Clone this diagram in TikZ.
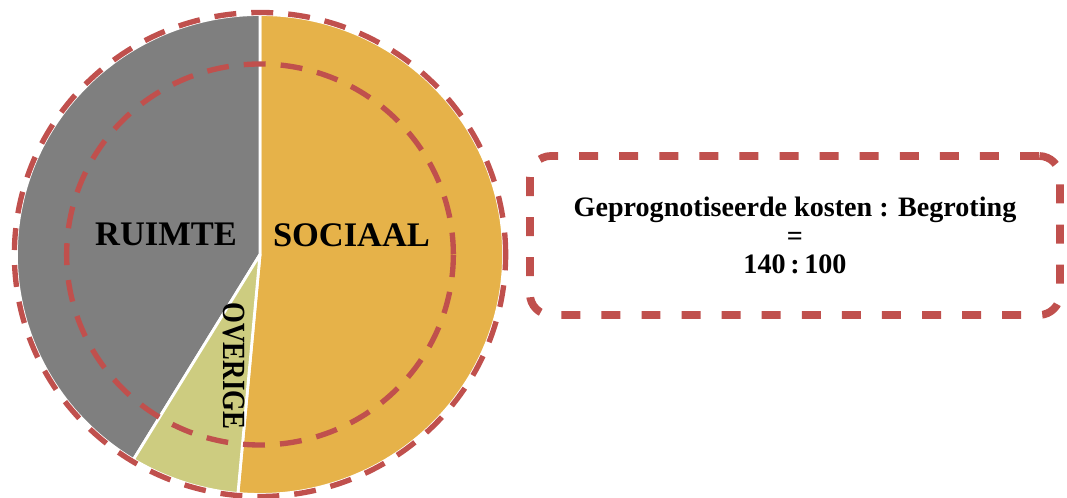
\documentclass[tikz,border=0pt]{standalone}
\usepackage{fontspec}
\setmainfont{Liberation Serif}
\usepackage{graphicx}
\definecolor{grijs}{RGB}{127,127,127}
\definecolor{oranje}{RGB}{230,178,73}
\definecolor{olijf}{RGB}{205,204,128}
\definecolor{rood}{RGB}{192,80,77}

\begin{document}
\begin{tikzpicture}[x=0.025cm,y=0.025cm,
        taartstuk/.style={draw=white,line width=2pt,line join=round},
        stip/.style={draw=rood,line width=3.8pt,dash pattern=on 15.6pt off 10.7pt},
        kader/.style={draw=rood,line width=5.5pt,dash pattern=on 13.5pt off 15pt,rounded corners=15pt,
            minimum width=13.25cm,minimum height=3.975cm,align=center,inner sep=0pt,
            font=\bfseries\fontsize{20}{20}\selectfont},
        taartlabel/.style={inner sep=0pt,font=\bfseries\fontsize{24.5}{28}\selectfont}]
        \useasboundingbox(0,0)rectangle(1067,498);

        \begin{scope}[shift={(260,243.5)},xscale=1.015]
            \filldraw[taartstuk,fill=oranje](0,0)--(90:240)arc[start angle=90,end angle=-95.2,radius=240]--cycle;
            \filldraw[taartstuk,fill=grijs](0,0)--(90:240)arc[start angle=90,end angle=238.7,radius=240]--cycle;
            \filldraw[taartstuk,fill=olijf](0,0)--(238.7:240)arc[start angle=238.7,end angle=264.8,radius=240]--cycle;
            \draw[stip](0,0)circle[radius=242];
            \draw[stip](0,0)circle[radius=190.5];
        \end{scope}

        \node[taartlabel](ruimte)at(166,263.5){RUIMTE};
        \node[taartlabel](sociaal)at(351.5,262.5){SOCIAAL};
        \node[taartlabel,rotate=-90](overige)at(233.5,132){\scalebox{0.83}[1]{\fontsize{23}{28}\selectfont OVERIGE}};

        \node[kader](kosten)at(795,262.5){Geprognotiseerde kosten : Begroting\\=\\140\,:\,100};
    \end{tikzpicture}
\end{document}
